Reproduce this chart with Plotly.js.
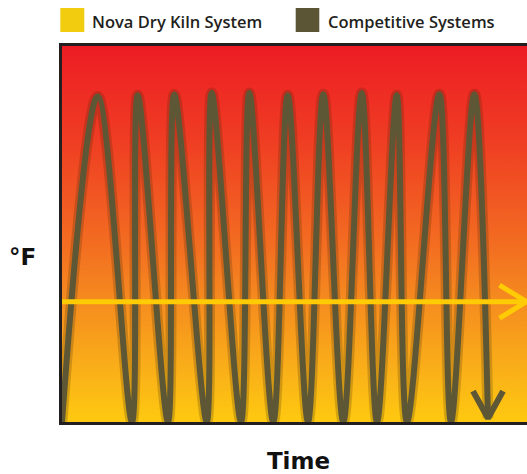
<!DOCTYPE html>
<html>
<head>
<meta charset="utf-8">
<script src="https://cdn.plot.ly/plotly-3.0.1.min.js"></script>
<style>
  html, body { margin: 0; padding: 0; overflow: hidden; background: #ffffff; }
  #chart { width: 545px; height: 474px; }
</style>
</head>
<body>
<div id="chart"></div>
<script>
// ---------- data ----------
const seriesNames = ['Nova Dry Kiln System', 'Competitive Systems'];
const xAxisTitle = 'Time';
const yAxisTitle = '°F';

// Competitive systems: temperature swings (time units, temperature 0-100 scale)
const compTime = [0, 35.7, 70, 75.7, 106, 112.3, 144.7, 149.7, 179, 187.3, 211.3,
                  225.7, 246, 261.3, 281.3, 299.7, 315, 334.7, 345, 377.3, 389, 412.3, 426];
const compTemp = [0, 86.6, 0, 86.9, 0, 87.1, 0, 87.5, 0, 87.5, 0,
                  86.9, 0, 87.2, 0, 87.5, 0, 86.9, 0, 87.2, 0, 87.2, 1];

// Nova Dry Kiln: steady temperature
const novaTime = [0, 464.5];
const novaTemp = [32, 32];

// ---------- styles ----------
const novaColor = '#FFCB05';
const compColor = '#5E5736';
const swatchColors = ['#F2CD0F', '#5C5535'];
const inkColor = '#231F20';

const M = { l: 62, r: 10, t: 46, b: 52 };
const W = 545, H = 474;
const plotW = W - M.l - M.r, plotH = H - M.t - M.b;
const px2x = px => (px - M.l) / plotW;
const py2y = py => (H - M.b - py) / plotH;

// arrowhead helper: chevron built from the end of a series
function chevron(xs, ys, dx, dy) {
  const ex = xs[xs.length - 1], ey = ys[ys.length - 1];
  return { x: [ex + dx[0], ex, ex + dx[1]], y: [ey + dy[0], ey, ey + dy[1]] };
}
const compHead = chevron(compTime, compTemp, [-15, 15], [7.2, 7.2]);
const novaHead = chevron(novaTime, novaTemp, [-27, -27], [4.4, -4.4]);

const traces = [
  { x: compTime, y: compTemp, type: 'scatter', mode: 'lines', name: seriesNames[1] + ' shadow',
    line: { color: 'rgba(60,40,10,0.22)', width: 11, shape: 'spline', smoothing: 1 },
    hoverinfo: 'skip', showlegend: false },
  { x: compTime, y: compTemp, type: 'scatter', mode: 'lines', name: seriesNames[1],
    line: { color: compColor, width: 6, shape: 'spline', smoothing: 1 }, showlegend: false },
  { x: compHead.x, y: compHead.y, type: 'scatter', mode: 'lines', name: seriesNames[1] + ' arrow',
    line: { color: compColor, width: 6 }, hoverinfo: 'skip', showlegend: false },
  { x: novaTime, y: novaTemp, type: 'scatter', mode: 'lines', name: seriesNames[0],
    line: { color: novaColor, width: 5 }, showlegend: false },
  { x: novaHead.x, y: novaHead.y, type: 'scatter', mode: 'lines', name: seriesNames[0] + ' arrow',
    line: { color: novaColor, width: 5 }, hoverinfo: 'skip', showlegend: false }
];

const gradSvg = "<svg xmlns='http://www.w3.org/2000/svg' width='10' height='100' viewBox='0 0 10 100' preserveAspectRatio='none'>" +
  "<defs><linearGradient id='g' x1='0' y1='0' x2='0' y2='1'>" +
  "<stop offset='0' stop-color='#ED1C24'/>" +
  "<stop offset='0.25' stop-color='#EF3D23'/>" +
  "<stop offset='0.54' stop-color='#F36F21'/>" +
  "<stop offset='0.67' stop-color='#F58A1F'/>" +
  "<stop offset='0.88' stop-color='#FAB318'/>" +
  "<stop offset='1' stop-color='#FEC90F'/>" +
  "</linearGradient></defs><rect width='10' height='100' fill='url(#g)'/></svg>";

const axisBase = {
  showgrid: false, zeroline: false, showticklabels: false, ticks: '',
  showline: true, mirror: true, linecolor: inkColor, linewidth: 3, fixedrange: true
};

const legendFont = { family: 'Open Sans, sans-serif', size: 16.5, color: inkColor, weight: 600 };
const titleFont = { family: 'DejaVu Sans, sans-serif', size: 23, color: '#111111', weight: 700 };

const layout = {
  width: W, height: H, margin: M,
  paper_bgcolor: '#ffffff', plot_bgcolor: 'rgba(0,0,0,0)',
  showlegend: false,
  xaxis: Object.assign({}, axisBase, { range: [0, plotW],
    title: { text: xAxisTitle, font: titleFont, standoff: 30 } }),
  yaxis: Object.assign({}, axisBase, { range: [0, 100] }),
  images: [{
    source: 'data:image/svg+xml;charset=utf-8,' + encodeURIComponent(gradSvg),
    xref: 'paper', yref: 'paper', x: 0, y: 1, sizex: 1, sizey: 1,
    sizing: 'stretch', xanchor: 'left', yanchor: 'top', layer: 'below'
  }],
  shapes: [
    { type: 'rect', xref: 'paper', yref: 'paper', x0: px2x(60.3), x1: px2x(84.3), y0: py2y(32), y1: py2y(8),
      fillcolor: swatchColors[0], line: { width: 0 } },
    { type: 'rect', xref: 'paper', yref: 'paper', x0: px2x(295.7), x1: px2x(319.3), y0: py2y(32), y1: py2y(8),
      fillcolor: swatchColors[1], line: { width: 0 } }
  ],
  annotations: [
    { text: seriesNames[0], xref: 'paper', yref: 'paper', x: px2x(90), y: py2y(21),
      xanchor: 'left', yanchor: 'middle', showarrow: false, font: legendFont },
    { text: seriesNames[1], xref: 'paper', yref: 'paper', x: px2x(326), y: py2y(21),
      xanchor: 'left', yanchor: 'middle', showarrow: false, font: legendFont },
    { text: yAxisTitle, xref: 'paper', yref: 'paper', x: px2x(22.5), y: py2y(257),
      xanchor: 'center', yanchor: 'middle', showarrow: false, font: titleFont }
  ]
};

Plotly.newPlot('chart', traces, layout, { displayModeBar: false, staticPlot: true });
</script>
</body>
</html>
